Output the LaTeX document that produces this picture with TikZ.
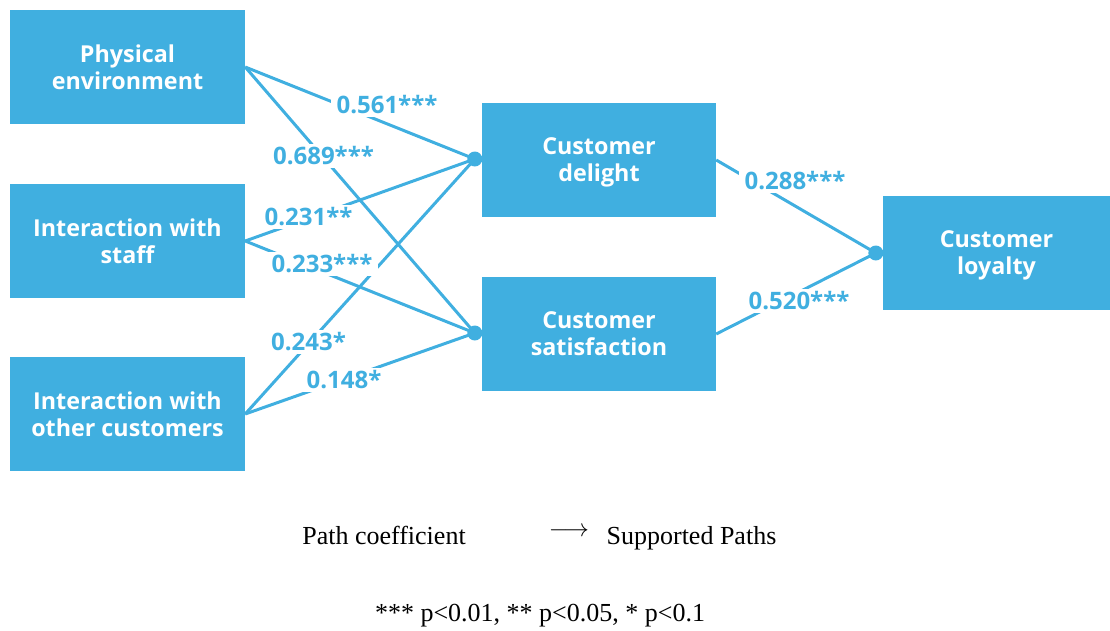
\documentclass[tikz,border=0pt]{standalone}
\usepackage{fontspec}
\setmainfont{Liberation Serif}
\newfontfamily\boxfont{Open Sans}
\definecolor{pathBlue}{RGB}{64, 175, 224}
\usetikzlibrary{positioning, calc}

\tikzset{
  construct/.style={fill=pathBlue, minimum width=235pt, minimum height=114pt, align=center, text=white, text depth=-4pt, font=\boxfont\bfseries\fontsize{23.3}{27}\selectfont},
  pathline/.style={draw=pathBlue, line width=3pt},
  coef/.style={fill=white, text=pathBlue, inner xsep=6pt, inner ysep=3pt, font=\boxfont\bfseries\fontsize{24}{28}\selectfont},
  joint/.style={circle, fill=pathBlue, inner sep=0pt, minimum size=15pt},
  legend/.style={anchor=base, font=\fontsize{26}{30}\selectfont},
}

\begin{document}
\begin{tikzpicture}[x=1pt, y=-1pt]
  \useasboundingbox (0,0) rectangle (1110,630);

  % constructs
  \node[construct] (phys) at (127.5,67) {Physical\\environment};
  \node[construct] (staff) at (127.5,241) {Interaction with\\staff};
  \node[construct] (other) at (127.5,414) {Interaction with\\other customers};
  \node[construct, minimum width=234pt] (delight) at (599,160) {Customer\\delight};
  \node[construct, minimum width=234pt] (satis) at (599,334) {Customer\\satisfaction};
  \node[construct, minimum width=227pt] (loyal) at (996.5,253) {Customer\\loyalty};

  % joints where the paths meet
  \node[joint] (dIn) at ($(delight.west)+(-7,-1)$) {};
  \node[joint] (sIn) at ($(satis.west)+(-7,-1)$) {};
  \node[joint] (lIn) at ($(loyal.west)+(-7,0)$) {};

  % paths
  \foreach \src in {phys, staff, other}{
    \draw[pathline] (\src.east) -- (dIn.center);
    \draw[pathline] (\src.east) -- (sIn.center);
  }
  \draw[pathline] (delight.east) -- (lIn.center);
  \draw[pathline] (satis.east) -- (lIn.center);

  % coefficients
  \node[coef] (c561) at (387,105) {0.561***};
  \node[coef] (c689) at (323.5,156) {0.689***};
  \node[coef] (c231) at (308.5,217) {0.231**};
  \node[coef] (c233) at (322,264) {0.233***};
  \node[coef] (c243) at (308.5,342) {0.243*};
  \node[coef] (c148) at (344,380) {0.148*};
  \node[coef] (c288) at (795,181) {0.288***};
  \node[coef] (c520) at (799,301) {0.520***};

  % legend
  \node[legend] (pc) at (384,544) {Path coefficient};
  \node[legend, font=\fontsize{28}{30}\selectfont] (arr) at (569,536) {$\longrightarrow$};
  \node[legend] (sp) at (691.5,544) {Supported Paths};
  \node[legend] (note) at (540,621) {*** p<0.01, ** p<0.05, * p<0.1};
\end{tikzpicture}
\end{document}
